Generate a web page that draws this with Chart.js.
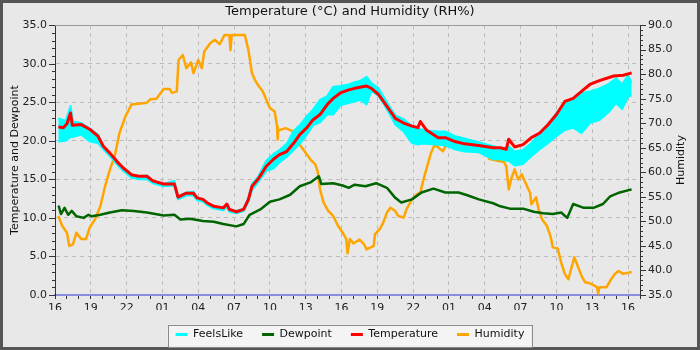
<!DOCTYPE html>
<html>
<head>
<meta charset="utf-8">
<script src="https://cdn.jsdelivr.net/npm/chart.js@4.4.1/dist/chart.umd.min.js"></script>
<style>
  html, body { margin: 0; padding: 0; background: #e8e8e8; }
</style>
</head>
<body>
<canvas id="weatherChart" width="700" height="350"></canvas>
<script>
// hours since 16:00 on the first day
var startHour = 16;

var tempTime = [0.28, 0.7, 1.0, 1.3, 1.45, 2.2, 2.9, 3.6, 4.05, 4.6, 5.2, 5.7, 6.4, 7.0, 7.7, 8.2, 9.1, 10.0, 10.3, 11.0, 11.6, 11.9, 12.4, 12.7, 13.3, 14.1, 14.4, 14.6, 15.2, 15.8, 16.2, 16.5, 17.0, 17.7, 18.3, 18.8, 19.4, 20.0, 20.5, 21.1, 21.6, 22.2, 22.8, 23.3, 23.9, 24.6, 25.1, 26.1, 26.5, 27.1, 27.6, 28.2, 28.5, 29.2, 29.9, 30.4, 30.6, 31.1, 32.1, 32.7, 33.5, 34.3, 35.5, 36.7, 37.3, 37.8, 38.0, 38.5, 39.2, 39.9, 40.6, 41.3, 42.0, 42.7, 43.4, 44.1, 44.8, 45.6, 46.8, 47.6, 48.3];
var temperature = [21.8, 21.7, 22.2, 23.6, 22.0, 22.1, 21.5, 20.6, 19.3, 18.4, 17.3, 16.5, 15.6, 15.4, 15.4, 14.8, 14.4, 14.4, 12.7, 13.2, 13.2, 12.6, 12.4, 12.0, 11.5, 11.3, 11.8, 11.1, 10.8, 11.1, 12.4, 14.1, 15.0, 16.7, 17.6, 18.2, 18.6, 19.7, 20.8, 21.7, 22.7, 23.4, 24.7, 25.5, 26.2, 26.6, 26.8, 27.1, 26.8, 26.0, 24.9, 23.6, 22.9, 22.3, 21.9, 21.7, 22.5, 21.4, 20.4, 20.4, 19.9, 19.6, 19.4, 19.1, 19.1, 18.9, 20.2, 19.2, 19.5, 20.4, 21.0, 22.1, 23.4, 25.1, 25.5, 26.4, 27.3, 27.8, 28.4, 28.5, 28.8];

var feelsTime = [0.28, 0.9, 1.3, 1.5, 2.2, 2.9, 3.6, 4.05, 4.6, 5.2, 5.7, 6.4, 7.0, 7.7, 8.2, 9.1, 10.0, 10.3, 11.0, 11.6, 11.9, 12.4, 12.7, 13.3, 14.1, 14.4, 14.6, 15.2, 15.8, 16.2, 16.5, 17.0, 17.7, 18.3, 18.8, 19.4, 20.0, 20.5, 21.1, 21.6, 22.2, 22.8, 23.3, 23.9, 24.6, 25.1, 25.6, 26.1, 26.5, 27.1, 27.6, 28.2, 28.5, 29.2, 29.9, 30.4, 30.6, 31.1, 32.1, 32.7, 33.5, 34.3, 35.5, 36.7, 37.3, 37.8, 38.0, 38.5, 39.2, 39.9, 40.6, 41.3, 42.0, 42.7, 43.4, 44.1, 44.8, 45.6, 46.3, 47.0, 47.5, 48.0, 48.3];
var feelsHigh = [22.9, 22.6, 24.5, 22.5, 22.3, 21.6, 20.8, 19.3, 18.4, 17.3, 16.5, 15.6, 15.4, 15.5, 14.8, 14.4, 14.8, 12.8, 13.3, 13.4, 12.6, 12.4, 12.0, 11.5, 11.3, 11.8, 11.1, 10.9, 11.2, 12.6, 14.4, 15.3, 17.4, 18.3, 18.8, 19.6, 21.3, 22.0, 23.2, 24.0, 25.3, 25.8, 27.0, 27.1, 27.3, 27.6, 27.8, 28.3, 27.5, 26.8, 25.5, 24.0, 23.3, 22.8, 21.9, 21.6, 21.5, 21.3, 21.2, 21.2, 20.6, 20.3, 19.8, 19.3, 19.0, 18.9, 19.3, 18.6, 18.8, 19.7, 21.0, 22.1, 23.6, 24.9, 25.5, 26.2, 26.4, 26.8, 27.3, 28.1, 27.3, 28.5, 27.5];
var feelsLow = [19.9, 20.0, 20.5, 20.5, 20.8, 19.9, 19.7, 18.9, 18.0, 16.9, 16.1, 15.2, 15.0, 15.0, 14.5, 14.1, 14.2, 12.4, 12.9, 12.9, 12.3, 12.1, 11.7, 11.2, 11.0, 11.4, 10.8, 10.6, 10.9, 12.1, 13.6, 14.6, 16.1, 16.4, 17.2, 17.9, 18.8, 19.6, 20.8, 22.0, 22.4, 23.4, 23.4, 24.6, 24.9, 25.1, 25.3, 24.7, 26.5, 25.8, 24.6, 23.0, 22.1, 21.2, 19.7, 19.5, 19.6, 19.6, 19.5, 19.4, 18.9, 18.6, 18.5, 17.6, 17.6, 17.4, 17.4, 16.8, 17.0, 18.0, 18.9, 19.7, 20.6, 21.4, 21.7, 21.0, 22.3, 22.7, 23.6, 24.9, 24.1, 25.7, 25.9];

var dewTime = [0.3, 0.5, 0.8, 1.1, 1.4, 1.8, 2.4, 2.8, 3.1, 3.8, 4.6, 5.6, 6.6, 7.7, 9.1, 10.0, 10.5, 11.3, 12.4, 13.3, 14.1, 15.2, 15.8, 16.3, 17.2, 18.0, 18.8, 19.7, 20.5, 21.4, 22.1, 22.3, 23.3, 24.1, 24.6, 25.1, 26.0, 26.9, 27.8, 28.5, 29.0, 29.9, 30.7, 31.7, 32.7, 33.8, 34.6, 35.5, 36.7, 37.3, 38.1, 39.2, 40.1, 40.9, 41.7, 42.4, 42.9, 43.4, 44.3, 45.1, 45.9, 46.5, 47.3, 48.3];
var dewpoint = [11.6, 10.5, 11.3, 10.4, 10.9, 10.2, 10.0, 10.4, 10.2, 10.4, 10.7, 11.0, 10.9, 10.7, 10.3, 10.4, 9.8, 9.9, 9.6, 9.5, 9.2, 8.9, 9.2, 10.4, 11.1, 12.1, 12.4, 13.0, 14.1, 14.6, 15.4, 14.4, 14.5, 14.2, 13.9, 14.3, 14.1, 14.5, 13.9, 12.6, 12.0, 12.4, 13.3, 13.8, 13.3, 13.3, 12.9, 12.4, 11.9, 11.5, 11.2, 11.2, 10.8, 10.6, 10.5, 10.7, 10.0, 11.8, 11.3, 11.3, 11.8, 12.8, 13.3, 13.7];

var humTime = [0.28, 0.6, 1.0, 1.2, 1.5, 1.8, 2.2, 2.6, 2.9, 3.35, 3.8, 4.2, 4.6, 5.0, 5.4, 5.9, 6.4, 7.7, 8.0, 8.5, 9.1, 9.6, 9.8, 10.2, 10.35, 10.7, 11.0, 11.4, 11.6, 12.0, 12.3, 12.5, 13.0, 13.4, 13.8, 14.2, 14.6, 14.7, 14.8, 15.9, 16.2, 16.5, 16.75, 17.0, 17.4, 17.7, 18.0, 18.4, 18.6, 18.65, 18.7, 19.3, 20.0, 20.1, 20.5, 20.9, 21.4, 21.8, 22.0, 22.2, 22.5, 22.9, 23.3, 23.7, 24.1, 24.4, 24.5, 24.7, 25.0, 25.5, 25.9, 26.1, 26.7, 26.8, 27.2, 27.5, 27.8, 28.1, 28.5, 28.75, 29.2, 29.45, 29.9, 30.3, 30.6, 30.8, 31.1, 31.5, 31.8, 32.5, 32.7, 33.5, 34.1, 35.0, 35.5, 35.9, 36.4, 37.6, 37.8, 38.0, 38.2, 38.5, 38.8, 39.1, 39.4, 39.8, 39.9, 40.3, 40.5, 40.8, 41.2, 41.5, 41.7, 42.1, 42.4, 42.7, 43.0, 43.3, 43.5, 43.8, 44.1, 44.4, 44.8, 45.4, 45.5, 45.6, 46.2, 46.5, 46.9, 47.2, 47.6, 48.3];
var humidity = [51.1, 49.1, 47.7, 45.0, 45.3, 47.7, 46.4, 46.4, 48.7, 50.4, 53.1, 57.2, 60.6, 63.3, 68.0, 71.4, 73.8, 74.2, 74.9, 75.0, 77.0, 77.0, 76.2, 76.5, 82.9, 83.9, 81.2, 82.4, 80.2, 82.9, 81.2, 84.6, 86.3, 87.0, 86.1, 88.0, 88.0, 84.9, 88.0, 88.0, 84.9, 80.2, 78.8, 77.8, 76.5, 74.8, 73.1, 72.4, 69.4, 66.7, 68.5, 69.0, 68.3, 66.0, 65.6, 64.3, 62.6, 61.6, 60.2, 56.5, 53.8, 52.1, 51.1, 49.1, 47.7, 46.4, 43.5, 46.4, 45.5, 46.3, 45.3, 44.3, 45.0, 47.4, 48.4, 49.8, 51.8, 52.8, 52.1, 51.1, 50.8, 52.5, 54.5, 55.5, 55.9, 57.9, 60.6, 64.0, 65.6, 64.3, 65.3, 65.6, 66.7, 66.3, 65.3, 65.0, 62.7, 62.1, 61.2, 56.5, 58.5, 60.6, 58.5, 59.6, 57.9, 55.8, 53.5, 54.9, 52.5, 50.4, 49.1, 47.0, 44.7, 44.5, 41.6, 39.3, 38.2, 40.9, 42.7, 40.8, 38.9, 37.6, 37.4, 36.6, 35.3, 36.6, 36.6, 37.9, 39.3, 39.9, 39.3, 39.7];

var rightTitle = 'Humidity';

function points(times, values) {
    return times.map(function (t, i) { return { x: t, y: values[i] }; });
}

function pad2(n) {
    return (n < 10 ? '0' : '') + n;
}

Chart.defaults.font.family = 'DejaVu Sans';
Chart.defaults.font.size = 11;
Chart.defaults.color = '#222';

// outer frame, legend box, top border, value-axis ticks and the right axis title
var framePlugin = {
    id: 'frame',
    beforeDraw: function (chart) {
        var c = chart.ctx;
        c.save();
        c.fillStyle = '#555555';
        c.fillRect(0, 0, chart.width, chart.height);
        c.fillStyle = '#e8e8e8';
        c.fillRect(3, 3, chart.width - 6, chart.height - 6);

        var boxes = chart.legend.legendHitBoxes;
        if (boxes && boxes.length) {
            var first = boxes[0], last = boxes[boxes.length - 1];
            var mid = first.top + first.height / 2 + 1;
            var x0 = first.left - 8, x1 = last.left + last.width + 7;
            c.fillStyle = '#f4f4f4';
            c.fillRect(x0, mid - 11, x1 - x0, 22);
            c.strokeStyle = '#8a8a8a';
            c.lineWidth = 1;
            c.strokeRect(Math.round(x0) + 0.5, Math.round(mid - 11) + 0.5, Math.round(x1 - x0), 22);
        }
        c.restore();
    },
    afterDraw: function (chart) {
        var c = chart.ctx, area = chart.chartArea;
        c.save();
        c.strokeStyle = '#999999';
        c.lineWidth = 1;
        c.beginPath();
        c.moveTo(area.left, Math.round(area.top) + 0.5);
        c.lineTo(area.right, Math.round(area.top) + 0.5);
        c.stroke();

        c.strokeStyle = '#333333';
        ['y', 'y1'].forEach(function (id) {
            var s = chart.scales[id];
            var edge = id === 'y' ? area.left : area.right;
            var dir = id === 'y' ? -1 : 1;
            s.ticks.forEach(function (t) {
                var py = Math.round(s.getPixelForValue(t.value)) + 0.5;
                var len = Math.round(t.value) % 5 === 0 ? 6 : 3;
                c.beginPath();
                c.moveTo(edge, py);
                c.lineTo(edge + dir * len, py);
                c.stroke();
            });
        });

        // right axis title reads bottom-to-top like the left one
        c.translate(681, (area.top + area.bottom) / 2);
        c.rotate(-Math.PI / 2);
        c.fillStyle = '#111';
        c.font = '11px "DejaVu Sans"';
        c.textAlign = 'center';
        c.textBaseline = 'middle';
        c.fillText(rightTitle, 0, 0);
        c.restore();
    }
};

var ctx = document.getElementById('weatherChart').getContext('2d');
var weatherChart = new Chart(ctx, {
    type: 'line',
    data: {
        datasets: [{
            label: 'FeelsLike',
            data: points(feelsTime, feelsHigh),
            borderColor: '#00ffff',
            backgroundColor: '#00ffff',
            borderWidth: 2,
            fill: 4,
            order: 3
        }, {
            label: 'Dewpoint',
            data: points(dewTime, dewpoint),
            borderColor: '#006400',
            backgroundColor: '#006400',
            borderWidth: 2.5,
            order: 2
        }, {
            label: 'Temperature',
            data: points(tempTime, temperature),
            borderColor: '#ff0000',
            backgroundColor: '#ff0000',
            borderWidth: 3,
            order: 1
        }, {
            label: 'Humidity',
            data: points(humTime, humidity),
            borderColor: '#ffa500',
            backgroundColor: '#ffa500',
            borderWidth: 2.5,
            yAxisID: 'y1',
            order: 5
        }, {
            label: 'FeelsLike min',
            data: points(feelsTime, feelsLow),
            borderColor: '#00ffff',
            backgroundColor: '#00ffff',
            borderWidth: 2,
            fill: false,
            order: 4
        }]
    },
    options: {
        responsive: false,
        animation: false,
        events: [],
        elements: {
            point: { radius: 0 },
            line: { tension: 0, borderJoinStyle: 'round' }
        },
        layout: { padding: 0 },
        plugins: {
            title: {
                display: true,
                text: 'Temperature (°C) and Humidity (RH%)',
                color: '#111',
                font: { size: 13, weight: 'normal' },
                padding: { top: 3.5, bottom: 6 }
            },
            legend: {
                position: 'bottom',
                labels: {
                    boxWidth: 12,
                    boxHeight: 3,
                    padding: 19,
                    color: '#111',
                    sort: function (a, b) { return a.datasetIndex - b.datasetIndex; },
                    filter: function (item) { return item.datasetIndex !== 4; },
                    generateLabels: function (chart) {
                        return Chart.defaults.plugins.legend.labels.generateLabels(chart).map(function (l) {
                            l.lineWidth = 0;
                            return l;
                        });
                    }
                }
            },
            tooltip: { enabled: false }
        },
        scales: {
            x: {
                type: 'linear',
                min: 0,
                max: 49,
                afterFit: function (s) { s.height = 15; },
                ticks: {
                    stepSize: 1,
                    autoSkip: false,
                    maxRotation: 0,
                    padding: 3,
                    callback: function (v) {
                        var h = Math.round(v);
                        return h % 3 === 0 ? pad2((startHour + h) % 24) : '';
                    }
                },
                grid: {
                    tickLength: 4,
                    tickColor: '#333',
                    color: function (c) {
                        var h = Math.round(c.tick.value);
                        return (h % 3 === 0 && h > 0) ? '#bcbcbc' : 'rgba(0,0,0,0)';
                    }
                },
                border: { color: '#8c8cdc', width: 2, dash: [4, 4] }
            },
            y: {
                position: 'left',
                min: 0,
                max: 35,
                afterFit: function (s) { s.width = 55; },
                ticks: {
                    stepSize: 1,
                    autoSkip: false,
                    padding: 8,
                    callback: function (v) {
                        return Math.round(v) % 5 === 0 ? v.toFixed(1) : '';
                    }
                },
                grid: {
                    drawTicks: false,
                    color: function (c) {
                        var v = Math.round(c.tick.value);
                        return (v % 5 === 0 && v > 0 && v < 35) ? '#bcbcbc' : 'rgba(0,0,0,0)';
                    }
                },
                border: { color: '#333', width: 1, dash: [4, 4] },
                title: {
                    display: true,
                    text: 'Temperature and Dewpoint',
                    color: '#111',
                    padding: { top: 9, bottom: 0 }
                }
            },
            y1: {
                position: 'right',
                min: 35,
                max: 90,
                afterFit: function (s) { s.width = 60; },
                ticks: {
                    stepSize: 1,
                    autoSkip: false,
                    padding: 8,
                    callback: function (v) {
                        return Math.round(v) % 5 === 0 ? v.toFixed(1) : '';
                    }
                },
                grid: { drawTicks: false, drawOnChartArea: false },
                border: { color: '#333', width: 1 }
            }
        }
    },
    plugins: [framePlugin]
});
</script>
</body>
</html>
